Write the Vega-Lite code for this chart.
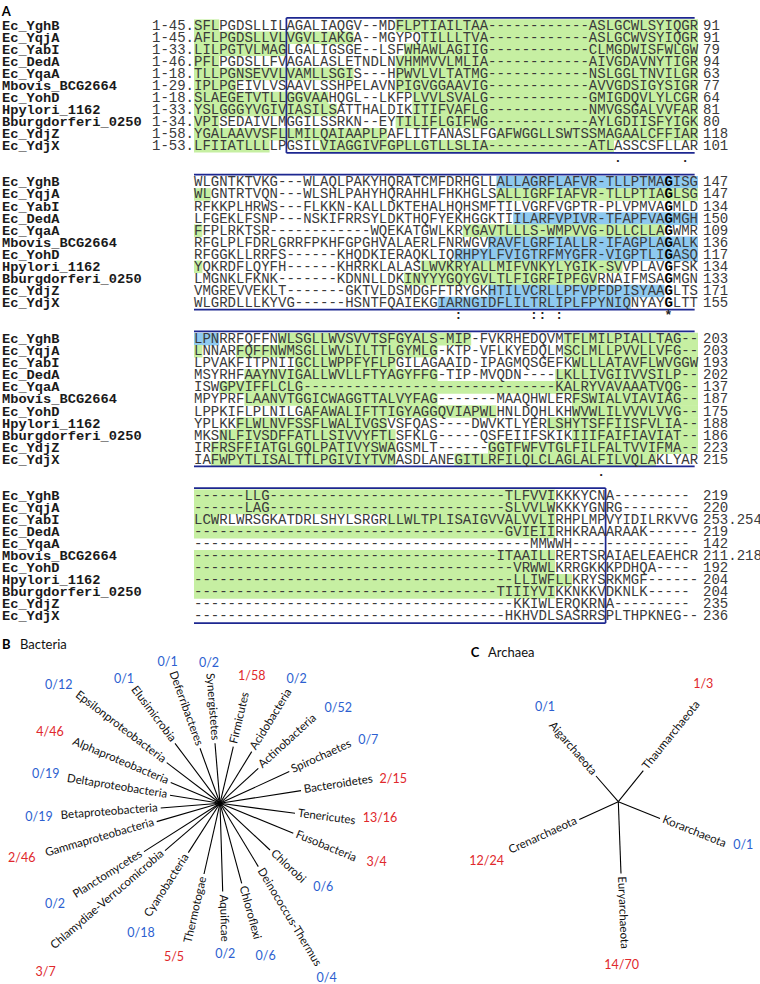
{
  "$schema": "https://vega.github.io/schema/vega-lite/v6.json",
  "padding": 0,
  "spacing": 0,
  "bounds": "flush",
  "background": "white",
  "config": {"view": {"stroke": null}, "concat": {"spacing": 0}},
  "datasets": {
    "seqs": [
      {"name": "Ec_YghB", "line": 0, "from": "1-45.", "seq": "SFLPGDSLLILAGALIAQGV--MDFLPTIAILTAA------------ASLGCWLSYIQGR", "to": "91"},
      {"name": "Ec_YqjA", "line": 1, "from": "1-45.", "seq": "AFLPGDSLLVLVGVLIAKGA--MGYPQTILLLTVA------------ASLGCWVSYIQGR", "to": "91"},
      {"name": "Ec_YabI", "line": 2, "from": "1-33.", "seq": "LILPGTVLMAGLGALIGSGE--LSFWHAWLAGIIG------------CLMGDWISFWLGW", "to": "79"},
      {"name": "Ec_DedA", "line": 3, "from": "1-46.", "seq": "PFLPGDSLLFVAGALASLETNDLNVHMMVVLMLIA------------AIVGDAVNYTIGR", "to": "94"},
      {"name": "Ec_YqaA", "line": 4, "from": "1-18.", "seq": "TLLPGNSEVVLVAMLLSGIS---HPWVLVLTATMG------------NSLGGLTNVILGR", "to": "63"},
      {"name": "Mbovis_BCG2664", "line": 5, "from": "1-29.", "seq": "IPLPGEIVLVSAAVLSSHPELAVNPIGVGGAAVIG------------AVVGDSIGYSIGR", "to": "77"},
      {"name": "Ec_YohD", "line": 6, "from": "1-18.", "seq": "SLAEGETVTLLGGVAAHQGL--LKFPLVVLSVALG------------GMIGDQVLYLCGR", "to": "64"},
      {"name": "Hpylori_1162", "line": 7, "from": "1-33.", "seq": "YSLGGGYVGIVIASILSATTHALDIKITIFVAFLG------------NMVGSGALVVFAR", "to": "81"},
      {"name": "Bburgdorferi_0250", "line": 8, "from": "1-34.", "seq": "VPISEDAIVLMGGILSSRKN--EYTILIFLGIFWG------------AYLGDIISFYIGK", "to": "80"},
      {"name": "Ec_YdjZ", "line": 9, "from": "1-58.", "seq": "YGALAAVVSFLLMILQAIAAPLPAFLITFANASLFGAFWGGLLSWTSSMAGAALCFFIAR", "to": "118"},
      {"name": "Ec_YdjX", "line": 10, "from": "1-53.", "seq": "LFIIATLLLLPGSILVIAGGIVFGPLLGTLLSLIA------------ATLASSCSFLLAR", "to": "101"},

      {"name": "Ec_YghB", "line": 13, "seq": "WLGNTKTVKG---WLAQLPAKYHQRATCMFDRHGLLALLAGRFLAFVR-TLLPTMA", "key": "G", "tail": "ISG", "to": "147"},
      {"name": "Ec_YqjA", "line": 14, "seq": "WLGNTRTVQN---WLSHLPAHYHQRAHHLFHKHGLSALLIGRFIAFVR-TLLPTIA", "key": "G", "tail": "LSG", "to": "147"},
      {"name": "Ec_YabI", "line": 15, "seq": "RFKKPLHRWS---FLKKN-KALLDKTEHALHQHSMFTILVGRFVGPTR-PLVPMVA", "key": "G", "tail": "MLD", "to": "134"},
      {"name": "Ec_DedA", "line": 16, "seq": "LFGEKLFSNP---NSKIFRRSYLDKTHQFYEKHGGKTIILARFVPIVR-TFAPFVA", "key": "G", "tail": "MGH", "to": "150"},
      {"name": "Ec_YqaA", "line": 17, "seq": "FFPLRKTSR------------WQEKATGWLKRYGAVTLLLS-WMPVVG-DLLCLLA", "key": "G", "tail": "WMR", "to": "109"},
      {"name": "Mbovis_BCG2664", "line": 18, "seq": "RFGLPLFDRLGRRFPKHFGPGHVALAERLFNRWGVRAVFLGRFIALLR-IFAGPLA", "key": "G", "tail": "ALK", "to": "136"},
      {"name": "Ec_YohD", "line": 19, "seq": "RFGGKLLRRFS------KHQDKIERAQKLIQRHPYLFVIGTRFMYGFR-VIGPTLI", "key": "G", "tail": "ASQ", "to": "117"},
      {"name": "Hpylori_1162", "line": 20, "seq": "YQKRDFLQYFH------KHRRKLALASLWVKRYALLMIFVNKYLYGIK-SVVPLAV", "key": "G", "tail": "FSK", "to": "134"},
      {"name": "Bburgdorferi_0250", "line": 21, "seq": "LMGNKLFKNK-------KDNNLLDKINYYYGQYGVLTLFIGRFIPFGVRNAIFMSA", "key": "G", "tail": "MGN", "to": "133"},
      {"name": "Ec_YdjZ", "line": 22, "seq": "VMGREVVEKLT-------GKTVLDSMDGFFTRYGKHTILVCRLLPFVPFDPISYAA", "key": "G", "tail": "LTS", "to": "171"},
      {"name": "Ec_YdjX", "line": 23, "seq": "WLGRDLLLKYVG------HSNTFQAIEKGIARNGIDFLILTRLIPLFPYNIQNYAY", "key": "G", "tail": "LTT", "to": "155"},

      {"name": "Ec_YghB", "line": 26, "seq": "LPNRRFQFFNWLSGLLWVSVVTSFGYALS-MIP-FVKRHEDQVMTFLMILPIALLTAG--", "to": "203"},
      {"name": "Ec_YqjA", "line": 27, "seq": "LNNARFQFFNWMSGLLWVLILTTLGYMLG-KTP-VFLKYEDQLMSCLMLLPVVLLVFG--", "to": "203"},
      {"name": "Ec_YabI", "line": 28, "seq": "LPVAKFITPNIIGCLLWPPFYFLPGILAGAAID-IPAGMQSGEFKWLLLATAVFLWVGGW", "to": "193"},
      {"name": "Ec_DedA", "line": 29, "seq": "MSYRHFAAYNVIGALLWVLLFTYAGYFFG-TIP-MVQDN----LKLLIVGIIVVSILP--", "to": "202"},
      {"name": "Ec_YqaA", "line": 30, "seq": "ISWGPVIFFLCLG------------------------------KALRYVAVAAATVQG--", "to": "137"},
      {"name": "Mbovis_BCG2664", "line": 31, "seq": "MPYPRFLAANVTGGICWAGGTTALVYFAG-------MAAQHWLERFSWIALVIAVIAG--", "to": "187"},
      {"name": "Ec_YohD", "line": 32, "seq": "LPPKIFLPLNILGAFAWALIFTTIGYAGGQVIAPWLHNLDQHLKHWVWLILVVVLVVG--", "to": "175"},
      {"name": "Hpylori_1162", "line": 33, "seq": "YPLKKFLWLNVFSSFLWALIVGSVSFQAS----DWVKTLYERLSHYTSFFIISFVLIA--", "to": "188"},
      {"name": "Bburgdorferi_0250", "line": 34, "seq": "MKSNLFIVSDFFATLLSIVVYFTLSFKLG-----QSFEIIFSKIKIIIFAIFIAVIAT--", "to": "186"},
      {"name": "Ec_YdjZ", "line": 35, "seq": "IRFRSFFIATGLGQLPATIVYSWAGSMLT------GGTFWFVTGLFILFALTVVIFMA--", "to": "223"},
      {"name": "Ec_YdjX", "line": 36, "seq": "IAFWPYTLISALTTLPGIVIYTVMASDLANEGITLRFILQLCLAGLALFILVQLAKLYAR", "to": "215"},

      {"name": "Ec_YghB", "line": 39, "seq": "------LLG----------------------------TLFVVIKKKYCNA---------", "to": "219"},
      {"name": "Ec_YqjA", "line": 40, "seq": "------LAG----------------------------SLVVLWKKKYGNRG--------", "to": "220"},
      {"name": "Ec_YabI", "line": 41, "seq": "LCWRLWRSGKATDRLSHYLSRGRLLWLTPLISAIGVVALVVLIRHPLMPVYIDILRKVVG", "to": "253.254"},
      {"name": "Ec_DedA", "line": 42, "seq": "-------------------------------------GVIEIIRHKRAAARAAK------", "to": "219"},
      {"name": "Ec_YqaA", "line": 43, "seq": "----------------------------------------MMWWH--------------", "to": "142"},
      {"name": "Mbovis_BCG2664", "line": 44, "seq": "------------------------------------ITAAILLRERTSRAIAELEAEHCR", "to": "211.218"},
      {"name": "Ec_YohD", "line": 45, "seq": "--------------------------------------VRWWLKRRGKKKPDHQA----", "to": "192"},
      {"name": "Hpylori_1162", "line": 46, "seq": "--------------------------------------LLIWFLLKRYSRKMGF------", "to": "204"},
      {"name": "Bburgdorferi_0250", "line": 47, "seq": "------------------------------------TIIIYVIKKNKKVDKNLK-----", "to": "204"},
      {"name": "Ec_YdjZ", "line": 48, "seq": "--------------------------------------KKIWLERQKRNA---------", "to": "235"},
      {"name": "Ec_YdjX", "line": 49, "seq": "-------------------------------------HKHVDLSASRRSPLTHPKNEG--", "to": "236"}
    ],
    "hl": [
      {"line": 0, "s": 0, "e": 3, "k": "g"}, {"line": 0, "s": 24, "e": 60, "k": "g"},
      {"line": 1, "s": 0, "e": 19, "k": "g"}, {"line": 1, "s": 27, "e": 60, "k": "g"},
      {"line": 2, "s": 0, "e": 11, "k": "g"}, {"line": 2, "s": 25, "e": 60, "k": "g"},
      {"line": 3, "s": 0, "e": 3, "k": "g"}, {"line": 3, "s": 24, "e": 60, "k": "g"},
      {"line": 4, "s": 0, "e": 19, "k": "g"}, {"line": 4, "s": 24, "e": 60, "k": "g"},
      {"line": 5, "s": 0, "e": 5, "k": "g"}, {"line": 5, "s": 24, "e": 60, "k": "g"},
      {"line": 6, "s": 0, "e": 16, "k": "g"}, {"line": 6, "s": 26, "e": 60, "k": "g"},
      {"line": 7, "s": 0, "e": 17, "k": "g"}, {"line": 7, "s": 26, "e": 60, "k": "g"},
      {"line": 8, "s": 0, "e": 3, "k": "g"}, {"line": 8, "s": 24, "e": 60, "k": "g"},
      {"line": 9, "s": 0, "e": 23, "k": "g"}, {"line": 9, "s": 36, "e": 60, "k": "g"},
      {"line": 10, "s": 0, "e": 9, "k": "g"}, {"line": 10, "s": 15, "e": 50, "k": "g"},
      {"line": 13, "s": 36, "e": 60, "k": "b"},
      {"line": 14, "s": 0, "e": 2, "k": "g"}, {"line": 14, "s": 36, "e": 60, "k": "g"},
      {"line": 16, "s": 38, "e": 60, "k": "b"},
      {"line": 17, "s": 0, "e": 1, "k": "g"}, {"line": 17, "s": 32, "e": 56, "k": "g"},
      {"line": 18, "s": 35, "e": 60, "k": "b"},
      {"line": 19, "s": 31, "e": 60, "k": "b"},
      {"line": 20, "s": 0, "e": 1, "k": "g"}, {"line": 20, "s": 27, "e": 51, "k": "g"},
      {"line": 21, "s": 25, "e": 48, "k": "g"},
      {"line": 22, "s": 35, "e": 56, "k": "b"},
      {"line": 23, "s": 29, "e": 52, "k": "b"},
      {"line": 26, "s": 0, "e": 3, "k": "b"}, {"line": 26, "s": 10, "e": 33, "k": "g"}, {"line": 26, "s": 44, "e": 60, "k": "g"},
      {"line": 27, "s": 0, "e": 1, "k": "g"}, {"line": 27, "s": 5, "e": 29, "k": "g"}, {"line": 27, "s": 44, "e": 60, "k": "g"},
      {"line": 28, "s": 12, "e": 24, "k": "g"}, {"line": 28, "s": 45, "e": 60, "k": "g"},
      {"line": 29, "s": 6, "e": 29, "k": "g"}, {"line": 29, "s": 43, "e": 60, "k": "g"},
      {"line": 30, "s": 3, "e": 60, "k": "g"},
      {"line": 31, "s": 6, "e": 29, "k": "g"}, {"line": 31, "s": 45, "e": 60, "k": "g"},
      {"line": 32, "s": 13, "e": 36, "k": "g"}, {"line": 32, "s": 45, "e": 60, "k": "g"},
      {"line": 33, "s": 5, "e": 23, "k": "g"}, {"line": 33, "s": 42, "e": 60, "k": "g"},
      {"line": 34, "s": 3, "e": 24, "k": "g"}, {"line": 34, "s": 45, "e": 60, "k": "g"},
      {"line": 35, "s": 2, "e": 24, "k": "g"}, {"line": 35, "s": 35, "e": 60, "k": "g"},
      {"line": 36, "s": 2, "e": 24, "k": "g"}, {"line": 36, "s": 31, "e": 55, "k": "g"},
      {"line": 39, "s": 0, "e": 43, "k": "g"},
      {"line": 40, "s": 0, "e": 43, "k": "g"},
      {"line": 41, "s": 0, "e": 3, "k": "g"}, {"line": 41, "s": 23, "e": 43, "k": "g"},
      {"line": 42, "s": 0, "e": 43, "k": "g"},
      {"line": 44, "s": 0, "e": 43, "k": "g"},
      {"line": 45, "s": 0, "e": 43, "k": "g"},
      {"line": 46, "s": 0, "e": 45, "k": "g"},
      {"line": 47, "s": 0, "e": 43, "k": "g"}
    ],
    "box": [
      {"c1": 11, "c2": 59.6, "l1": -0.65, "l2": -0.65},
      {"c1": 11, "c2": 11, "l1": -0.65, "l2": 10.55},
      {"c1": 11, "c2": 59.6, "l1": 10.55, "l2": 10.55},
      {"c1": 0, "c2": 59.6, "l1": 12.35, "l2": 12.35},
      {"c1": 0, "c2": 59.6, "l1": 23.55, "l2": 23.55},
      {"c1": 0, "c2": 59.6, "l1": 25.35, "l2": 25.35},
      {"c1": 0, "c2": 59.6, "l1": 36.55, "l2": 36.55},
      {"c1": 0, "c2": 49, "l1": 38.35, "l2": 38.35},
      {"c1": 49, "c2": 49, "l1": 38.35, "l2": 49.55},
      {"c1": 0, "c2": 49, "l1": 49.55, "l2": 49.55}
    ],
    "cons": [
      {"line": 11, "c": 50, "sym": "."}, {"line": 11, "c": 58, "sym": "."},
      {"line": 24, "c": 31, "sym": ":"}, {"line": 24, "c": 40, "sym": ":"}, {"line": 24, "c": 41, "sym": ":"}, {"line": 24, "c": 43, "sym": ":"}, {"line": 24, "c": 56, "sym": "*"},
      {"line": 37, "c": 48, "sym": "."}
    ],
    "treeB": [
      {"name": "Firmicutes", "tx": 13.3, "ty": 56.7, "frac": "1/58", "hits": 1, "fx": 31.7, "fy": 127.3},
      {"name": "Acidobacteria", "tx": 31.7, "ty": 51.7, "frac": "0/2", "hits": 0, "fx": 76.7, "fy": 124},
      {"name": "Actinobacteria", "tx": 38.3, "ty": 35, "frac": "0/52", "hits": 0, "fx": 118.3, "fy": 95},
      {"name": "Spirochaetes", "tx": 69.3, "ty": 31.7, "frac": "0/7", "hits": 0, "fx": 148.3, "fy": 63.3},
      {"name": "Bacteroidetes", "tx": 81, "ty": 12.7, "frac": "2/15", "hits": 2, "fx": 173.3, "fy": 24},
      {"name": "Tenericutes", "tx": 75, "ty": -10, "frac": "13/16", "hits": 13, "fx": 160, "fy": -15},
      {"name": "Fusobacteria", "tx": 73.3, "ty": -30, "frac": "3/4", "hits": 3, "fx": 156.7, "fy": -59},
      {"name": "Chlorobi", "tx": 50, "ty": -46.7, "frac": "0/6", "hits": 0, "fx": 103.3, "fy": -84},
      {"name": "Deinococcus-Thermus", "tx": 38.3, "ty": -63.3, "frac": "0/4", "hits": 0, "fx": 106.7, "fy": -175},
      {"name": "Chloroflexi", "tx": 21.7, "ty": -80, "frac": "0/6", "hits": 0, "fx": 45.7, "fy": -152.7},
      {"name": "Aquificae", "tx": 2.7, "ty": -88.3, "frac": "0/2", "hits": 0, "fx": 5.3, "fy": -150.7},
      {"name": "Thermotogae", "tx": -16, "ty": -70.7, "frac": "5/5", "hits": 5, "fx": -46, "fy": -153.3},
      {"name": "Cyanobacteria", "tx": -31.7, "ty": -49.3, "frac": "0/18", "hits": 0, "fx": -79, "fy": -130},
      {"name": "Chlamydiae-Verrucomicrobia", "tx": -55, "ty": -47.3, "frac": "3/7", "hits": 3, "fx": -174.3, "fy": -169},
      {"name": "Planctomycetes", "tx": -76, "ty": -48.3, "frac": "0/2", "hits": 0, "fx": -165, "fy": -101},
      {"name": "Gammaproteobacteria", "tx": -63.3, "ty": -18.3, "frac": "2/46", "hits": 2, "fx": -198.3, "fy": -55},
      {"name": "Betaproteobacteria", "tx": -59.3, "ty": -4.7, "frac": "0/19", "hits": 0, "fx": -181, "fy": -13.3},
      {"name": "Deltaproteobacteria", "tx": -50, "ty": 8, "frac": "0/19", "hits": 0, "fx": -174.3, "fy": 29.3},
      {"name": "Alphaproteobacteria", "tx": -49.3, "ty": 20.7, "frac": "4/46", "hits": 4, "fx": -170, "fy": 71},
      {"name": "Epsilonproteobacteria", "tx": -53.3, "ty": 40.7, "frac": "0/12", "hits": 0, "fx": -161.3, "fy": 118.3},
      {"name": "Elusimicrobia", "tx": -45, "ty": 60, "frac": "0/1", "hits": 0, "fx": -96, "fy": 124},
      {"name": "Deferribacteres", "tx": -20, "ty": 55, "frac": "0/1", "hits": 0, "fx": -52.3, "fy": 141},
      {"name": "Synergistetes", "tx": -5, "ty": 60, "frac": "0/2", "hits": 0, "fx": -11, "fy": 140}
    ],
    "treeC": [
      {"name": "Aigarchaeota", "tx": -22.3, "ty": 25.7, "frac": "0/1", "hits": 0, "fx": -73.3, "fy": 95},
      {"name": "Thaumarchaeota", "tx": 25, "ty": 31, "frac": "1/3", "hits": 1, "fx": 85, "fy": 117.3},
      {"name": "Korarchaeota", "tx": 41.7, "ty": -16.7, "frac": "0/1", "hits": 0, "fx": 125, "fy": -43.3},
      {"name": "Euryarchaeota", "tx": 2.7, "ty": -71.7, "frac": "14/70", "hits": 14, "fx": 3.3, "fy": -163.3},
      {"name": "Crenarchaeota", "tx": -39, "ty": -17.7, "frac": "12/24", "hits": 12, "fx": -131.7, "fy": -59}
    ],
    "titles": [
      {"panel": "B", "key": "B", "word": "Bacteria"},
      {"panel": "C", "key": "C", "word": "Archaea"}
    ]
  },
  "vconcat": [
    {
      "width": 760,
      "height": 636,
      "layer": [
        {
          "data": {"name": "hl"},
          "mark": {"type": "bar", "orient": "horizontal", "height": 12.6},
          "encoding": {
            "x": {"field": "s", "type": "quantitative", "scale": {"domain": [-23.095, 67.381], "nice": false, "zero": false}, "axis": null},
            "x2": {"field": "e"},
            "y": {"field": "line", "type": "quantitative", "scale": {"domain": [-1.714, 50.204], "nice": false, "zero": false, "reverse": true}, "axis": null},
            "color": {"field": "k", "type": "nominal", "scale": {"domain": ["g", "b"], "range": ["#c6efa2", "#8ec9f0"]}, "legend": null}
          }
        },
        {
          "data": {"name": "box"},
          "mark": {"type": "rule", "color": "#1d2790", "strokeWidth": 1.7},
          "encoding": {
            "x": {"field": "c1", "type": "quantitative", "scale": {"domain": [-23.095, 67.381], "nice": false, "zero": false}, "axis": null},
            "x2": {"field": "c2"},
            "y": {"field": "l1", "type": "quantitative", "scale": {"domain": [-1.714, 50.204], "nice": false, "zero": false, "reverse": true}, "axis": null},
            "y2": {"field": "l2"}
          }
        },
        {
          "data": {"name": "seqs"},
          "transform": [{"calculate": "-22.86", "as": "c"}],
          "mark": {"type": "text", "font": "Liberation Mono", "fontWeight": "bold", "fontSize": 13.7, "align": "left", "baseline": "middle", "color": "#1a1a1a"},
          "encoding": {
            "x": {"field": "c", "type": "quantitative", "scale": {"domain": [-23.095, 67.381], "nice": false, "zero": false}, "axis": null},
            "y": {"field": "line", "type": "quantitative", "scale": {"domain": [-1.714, 50.204], "nice": false, "zero": false, "reverse": true}, "axis": null},
            "text": {"field": "name", "type": "nominal"}
          }
        },
        {
          "data": {"name": "seqs"},
          "transform": [{"filter": "datum.from != null"}, {"calculate": "-5", "as": "c"}],
          "mark": {"type": "text", "font": "Liberation Mono", "fontSize": 14, "align": "left", "baseline": "middle", "color": "#3a3a3a"},
          "encoding": {
            "x": {"field": "c", "type": "quantitative", "scale": {"domain": [-23.095, 67.381], "nice": false, "zero": false}, "axis": null},
            "y": {"field": "line", "type": "quantitative", "scale": {"domain": [-1.714, 50.204], "nice": false, "zero": false, "reverse": true}, "axis": null},
            "text": {"field": "from", "type": "nominal"}
          }
        },
        {
          "data": {"name": "seqs"},
          "transform": [{"calculate": "0", "as": "c"}],
          "mark": {"type": "text", "font": "Liberation Mono", "fontSize": 14, "align": "left", "baseline": "middle", "color": "#3a3a3a"},
          "encoding": {
            "x": {"field": "c", "type": "quantitative", "scale": {"domain": [-23.095, 67.381], "nice": false, "zero": false}, "axis": null},
            "y": {"field": "line", "type": "quantitative", "scale": {"domain": [-1.714, 50.204], "nice": false, "zero": false, "reverse": true}, "axis": null},
            "text": {"field": "seq", "type": "nominal"}
          }
        },
        {
          "data": {"name": "seqs"},
          "transform": [{"filter": "datum.key != null"}, {"calculate": "56", "as": "c"}],
          "mark": {"type": "text", "font": "Liberation Mono", "fontWeight": "bold", "fontSize": 14, "align": "left", "baseline": "middle", "color": "#000000"},
          "encoding": {
            "x": {"field": "c", "type": "quantitative", "scale": {"domain": [-23.095, 67.381], "nice": false, "zero": false}, "axis": null},
            "y": {"field": "line", "type": "quantitative", "scale": {"domain": [-1.714, 50.204], "nice": false, "zero": false, "reverse": true}, "axis": null},
            "text": {"field": "key", "type": "nominal"}
          }
        },
        {
          "data": {"name": "seqs"},
          "transform": [{"filter": "datum.tail != null"}, {"calculate": "57", "as": "c"}],
          "mark": {"type": "text", "font": "Liberation Mono", "fontSize": 14, "align": "left", "baseline": "middle", "color": "#3a3a3a"},
          "encoding": {
            "x": {"field": "c", "type": "quantitative", "scale": {"domain": [-23.095, 67.381], "nice": false, "zero": false}, "axis": null},
            "y": {"field": "line", "type": "quantitative", "scale": {"domain": [-1.714, 50.204], "nice": false, "zero": false, "reverse": true}, "axis": null},
            "text": {"field": "tail", "type": "nominal"}
          }
        },
        {
          "data": {"name": "seqs"},
          "transform": [{"calculate": "60.6", "as": "c"}],
          "mark": {"type": "text", "font": "Liberation Mono", "fontSize": 14, "align": "left", "baseline": "middle", "color": "#3a3a3a"},
          "encoding": {
            "x": {"field": "c", "type": "quantitative", "scale": {"domain": [-23.095, 67.381], "nice": false, "zero": false}, "axis": null},
            "y": {"field": "line", "type": "quantitative", "scale": {"domain": [-1.714, 50.204], "nice": false, "zero": false, "reverse": true}, "axis": null},
            "text": {"field": "to", "type": "nominal"}
          }
        },
        {
          "data": {"name": "cons"},
          "mark": {"type": "text", "font": "Liberation Mono", "fontWeight": "bold", "fontSize": 13, "align": "left", "baseline": "middle", "color": "#222222"},
          "encoding": {
            "x": {"field": "c", "type": "quantitative", "scale": {"domain": [-23.095, 67.381], "nice": false, "zero": false}, "axis": null},
            "y": {"field": "line", "type": "quantitative", "scale": {"domain": [-1.714, 50.204], "nice": false, "zero": false, "reverse": true}, "axis": null},
            "text": {"field": "sym", "type": "nominal"}
          }
        },
        {
          "data": {"values": [{"t": "A"}]},
          "transform": [{"calculate": "-22.9", "as": "c"}, {"calculate": "-1.15", "as": "l"}],
          "mark": {"type": "text", "font": "Lato", "fontWeight": "bold", "fontSize": 13, "align": "left", "baseline": "middle", "color": "#000000"},
          "encoding": {
            "x": {"field": "c", "type": "quantitative", "scale": {"domain": [-23.095, 67.381], "nice": false, "zero": false}, "axis": null},
            "y": {"field": "l", "type": "quantitative", "scale": {"domain": [-1.714, 50.204], "nice": false, "zero": false, "reverse": true}, "axis": null},
            "text": {"field": "t", "type": "nominal"}
          }
        }
      ]
    },
    {
      "spacing": 0,
      "bounds": "flush",
      "hconcat": [
        {
          "width": 460,
          "height": 348,
          "layer": [
            {
              "data": {"name": "treeB"},
              "transform": [{"calculate": "0", "as": "z"}],
              "mark": {"type": "rule", "color": "#000000", "strokeWidth": 1.1},
              "encoding": {
                "x": {"field": "tx", "type": "quantitative", "scale": {"domain": [-220, 240], "nice": false, "zero": false}, "axis": null},
                "x2": {"field": "z"},
                "y": {"field": "ty", "type": "quantitative", "scale": {"domain": [-180.7, 167.3], "nice": false, "zero": false}, "axis": null},
                "y2": {"field": "z"}
              }
            },
            {
              "data": {"name": "treeB"},
              "transform": [
                {"filter": "datum.tx >= 0"},
                {"calculate": "atan2(datum.ty, datum.tx)", "as": "theta"},
                {"calculate": "datum.tx + 3*cos(datum.theta)", "as": "lx"},
                {"calculate": "datum.ty + 3*sin(datum.theta)", "as": "ly"},
                {"calculate": "-datum.theta*180/PI", "as": "ang"}
              ],
              "mark": {"type": "text", "font": "Lato", "fontSize": 11.5, "align": "left", "baseline": "middle", "color": "#111111"},
              "encoding": {
                "x": {"field": "lx", "type": "quantitative", "scale": {"domain": [-220, 240], "nice": false, "zero": false}, "axis": null},
                "y": {"field": "ly", "type": "quantitative", "scale": {"domain": [-180.7, 167.3], "nice": false, "zero": false}, "axis": null},
                "angle": {"field": "ang", "type": "quantitative", "scale": {"domain": [0, 360], "range": [0, 360]}},
                "text": {"field": "name", "type": "nominal"}
              }
            },
            {
              "data": {"name": "treeB"},
              "transform": [
                {"filter": "datum.tx < 0"},
                {"calculate": "atan2(datum.ty, datum.tx)", "as": "theta"},
                {"calculate": "datum.tx + 3*cos(datum.theta)", "as": "lx"},
                {"calculate": "datum.ty + 3*sin(datum.theta)", "as": "ly"},
                {"calculate": "180 - datum.theta*180/PI", "as": "ang"}
              ],
              "mark": {"type": "text", "font": "Lato", "fontSize": 11.5, "align": "right", "baseline": "middle", "color": "#111111"},
              "encoding": {
                "x": {"field": "lx", "type": "quantitative", "scale": {"domain": [-220, 240], "nice": false, "zero": false}, "axis": null},
                "y": {"field": "ly", "type": "quantitative", "scale": {"domain": [-180.7, 167.3], "nice": false, "zero": false}, "axis": null},
                "angle": {"field": "ang", "type": "quantitative", "scale": {"domain": [0, 360], "range": [0, 360]}},
                "text": {"field": "name", "type": "nominal"}
              }
            },
            {
              "data": {"name": "treeB"},
              "mark": {"type": "text", "font": "Lato", "fontSize": 12.5, "align": "center", "baseline": "middle"},
              "encoding": {
                "x": {"field": "fx", "type": "quantitative", "scale": {"domain": [-220, 240], "nice": false, "zero": false}, "axis": null},
                "y": {"field": "fy", "type": "quantitative", "scale": {"domain": [-180.7, 167.3], "nice": false, "zero": false}, "axis": null},
                "text": {"field": "frac", "type": "nominal"},
                "color": {"condition": {"test": "datum.hits > 0", "value": "#e0282c"}, "value": "#2d5fd0"}
              }
            },
            {
              "data": {"name": "titles"},
              "transform": [{"filter": "datum.panel == 'B'"}, {"calculate": "-218", "as": "x"}, {"calculate": "158.3", "as": "y"}],
              "mark": {"type": "text", "font": "Lato", "fontWeight": "bold", "fontSize": 13, "align": "left", "baseline": "middle", "color": "#000000"},
              "encoding": {
                "x": {"field": "x", "type": "quantitative", "scale": {"domain": [-220, 240], "nice": false, "zero": false}, "axis": null},
                "y": {"field": "y", "type": "quantitative", "scale": {"domain": [-180.7, 167.3], "nice": false, "zero": false}, "axis": null},
                "text": {"field": "key", "type": "nominal"}
              }
            },
            {
              "data": {"name": "titles"},
              "transform": [{"filter": "datum.panel == 'B'"}, {"calculate": "-200", "as": "x"}, {"calculate": "158.3", "as": "y"}],
              "mark": {"type": "text", "font": "Lato", "fontSize": 13, "align": "left", "baseline": "middle", "color": "#111111"},
              "encoding": {
                "x": {"field": "x", "type": "quantitative", "scale": {"domain": [-220, 240], "nice": false, "zero": false}, "axis": null},
                "y": {"field": "y", "type": "quantitative", "scale": {"domain": [-180.7, 167.3], "nice": false, "zero": false}, "axis": null},
                "text": {"field": "word", "type": "nominal"}
              }
            }
          ]
        },
        {
          "width": 300,
          "height": 348,
          "layer": [
            {
              "data": {"name": "treeC"},
              "transform": [{"calculate": "0", "as": "z"}],
              "mark": {"type": "rule", "color": "#000000", "strokeWidth": 1.1},
              "encoding": {
                "x": {"field": "tx", "type": "quantitative", "scale": {"domain": [-158.3, 141.7], "nice": false, "zero": false}, "axis": null},
                "x2": {"field": "z"},
                "y": {"field": "ty", "type": "quantitative", "scale": {"domain": [-182.3, 165.7], "nice": false, "zero": false}, "axis": null},
                "y2": {"field": "z"}
              }
            },
            {
              "data": {"name": "treeC"},
              "transform": [
                {"filter": "datum.tx >= 0"},
                {"calculate": "atan2(datum.ty, datum.tx)", "as": "theta"},
                {"calculate": "datum.tx + 3*cos(datum.theta)", "as": "lx"},
                {"calculate": "datum.ty + 3*sin(datum.theta)", "as": "ly"},
                {"calculate": "-datum.theta*180/PI", "as": "ang"}
              ],
              "mark": {"type": "text", "font": "Lato", "fontSize": 11.5, "align": "left", "baseline": "middle", "color": "#111111"},
              "encoding": {
                "x": {"field": "lx", "type": "quantitative", "scale": {"domain": [-158.3, 141.7], "nice": false, "zero": false}, "axis": null},
                "y": {"field": "ly", "type": "quantitative", "scale": {"domain": [-182.3, 165.7], "nice": false, "zero": false}, "axis": null},
                "angle": {"field": "ang", "type": "quantitative", "scale": {"domain": [0, 360], "range": [0, 360]}},
                "text": {"field": "name", "type": "nominal"}
              }
            },
            {
              "data": {"name": "treeC"},
              "transform": [
                {"filter": "datum.tx < 0"},
                {"calculate": "atan2(datum.ty, datum.tx)", "as": "theta"},
                {"calculate": "datum.tx + 3*cos(datum.theta)", "as": "lx"},
                {"calculate": "datum.ty + 3*sin(datum.theta)", "as": "ly"},
                {"calculate": "180 - datum.theta*180/PI", "as": "ang"}
              ],
              "mark": {"type": "text", "font": "Lato", "fontSize": 11.5, "align": "right", "baseline": "middle", "color": "#111111"},
              "encoding": {
                "x": {"field": "lx", "type": "quantitative", "scale": {"domain": [-158.3, 141.7], "nice": false, "zero": false}, "axis": null},
                "y": {"field": "ly", "type": "quantitative", "scale": {"domain": [-182.3, 165.7], "nice": false, "zero": false}, "axis": null},
                "angle": {"field": "ang", "type": "quantitative", "scale": {"domain": [0, 360], "range": [0, 360]}},
                "text": {"field": "name", "type": "nominal"}
              }
            },
            {
              "data": {"name": "treeC"},
              "mark": {"type": "text", "font": "Lato", "fontSize": 12.5, "align": "center", "baseline": "middle"},
              "encoding": {
                "x": {"field": "fx", "type": "quantitative", "scale": {"domain": [-158.3, 141.7], "nice": false, "zero": false}, "axis": null},
                "y": {"field": "fy", "type": "quantitative", "scale": {"domain": [-182.3, 165.7], "nice": false, "zero": false}, "axis": null},
                "text": {"field": "frac", "type": "nominal"},
                "color": {"condition": {"test": "datum.hits > 0", "value": "#e0282c"}, "value": "#2d5fd0"}
              }
            },
            {
              "data": {"name": "titles"},
              "transform": [{"filter": "datum.panel == 'C'"}, {"calculate": "-147.5", "as": "x"}, {"calculate": "148.7", "as": "y"}],
              "mark": {"type": "text", "font": "Lato", "fontWeight": "bold", "fontSize": 13, "align": "left", "baseline": "middle", "color": "#000000"},
              "encoding": {
                "x": {"field": "x", "type": "quantitative", "scale": {"domain": [-158.3, 141.7], "nice": false, "zero": false}, "axis": null},
                "y": {"field": "y", "type": "quantitative", "scale": {"domain": [-182.3, 165.7], "nice": false, "zero": false}, "axis": null},
                "text": {"field": "key", "type": "nominal"}
              }
            },
            {
              "data": {"name": "titles"},
              "transform": [{"filter": "datum.panel == 'C'"}, {"calculate": "-130.3", "as": "x"}, {"calculate": "148.7", "as": "y"}],
              "mark": {"type": "text", "font": "Lato", "fontSize": 13, "align": "left", "baseline": "middle", "color": "#111111"},
              "encoding": {
                "x": {"field": "x", "type": "quantitative", "scale": {"domain": [-158.3, 141.7], "nice": false, "zero": false}, "axis": null},
                "y": {"field": "y", "type": "quantitative", "scale": {"domain": [-182.3, 165.7], "nice": false, "zero": false}, "axis": null},
                "text": {"field": "word", "type": "nominal"}
              }
            }
          ]
        }
      ]
    }
  ]
}
